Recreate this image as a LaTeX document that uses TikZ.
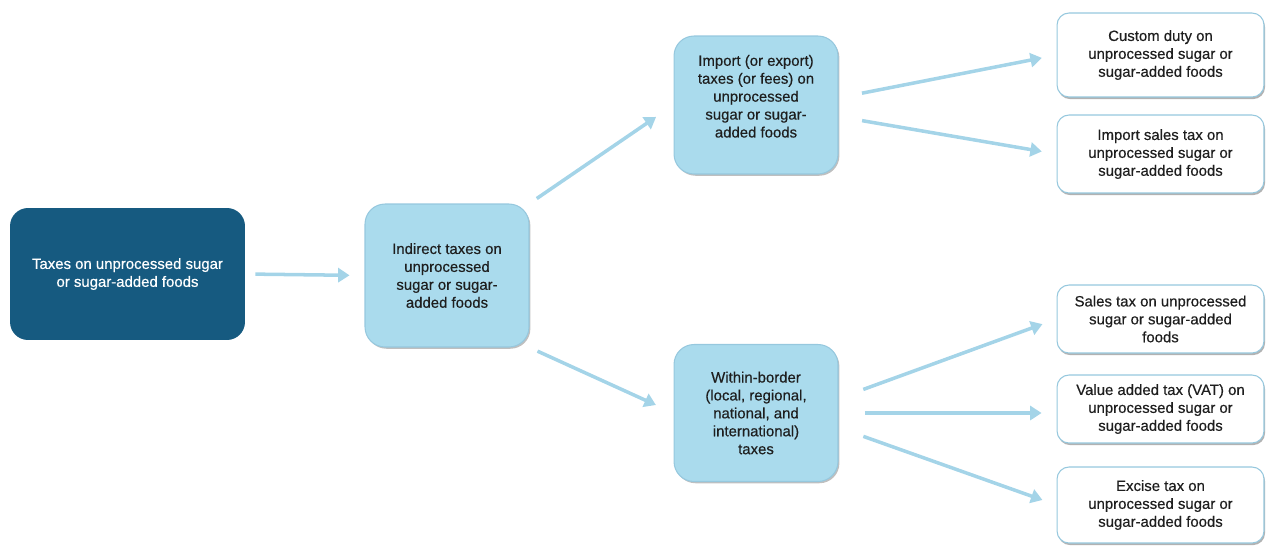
\documentclass[tikz,border=0pt]{standalone}
\usepackage{fontspec}
\setmainfont{Liberation Sans}[FakeBold=0.4]
\usetikzlibrary{arrows.meta,shadows}
\definecolor{darkblue}{RGB}{22,90,128}
\definecolor{lightblue}{RGB}{170,219,237}
\definecolor{arrowblue}{RGB}{164,212,232}
\definecolor{edgeblue}{RGB}{150,200,222}
\definecolor{textgray}{RGB}{30,30,30}
\begin{document}
\begin{tikzpicture}[x=0.02cm, y=-0.02cm,
    every node/.style={font=\fontsize{8.5}{10.2}\selectfont, align=center, inner sep=2pt},
    mainbox/.style={fill=darkblue, text=white, rounded corners=0.36cm, minimum width=4.7cm, minimum height=2.64cm},
    midbox/.style={fill=lightblue, draw=edgeblue, line width=0.6pt, text=textgray, rounded corners=0.4cm, minimum width=3.28cm,
        drop shadow={shadow xshift=0.8pt, shadow yshift=-1pt, fill=black!50, opacity=0.5}},
    leafbox/.style={fill=white, draw=edgeblue, line width=0.6pt, text=textgray, rounded corners=0.24cm, minimum width=4.14cm,
        drop shadow={shadow xshift=0.6pt, shadow yshift=-1.2pt, fill=black!55, opacity=0.55}},
    link/.style={-{Triangle[length=6.5pt,width=8pt]}, arrowblue, line width=2pt}]
    \useasboundingbox (0,0) rectangle (1266,545);

    \node[mainbox] (tax) at (127.5,274) {Taxes on unprocessed sugar\\or sugar-added foods};
    \node[midbox, minimum height=2.86cm] (indirect) at (447,275.5) {Indirect taxes on\\unprocessed\\sugar or sugar-\\added foods};
    \node[midbox, minimum height=2.76cm, text depth=10pt] (import) at (756,105) {Import (or export)\\taxes (or fees) on\\unprocessed\\sugar or sugar-\\added foods};
    \node[midbox, minimum height=2.74cm] (within) at (756,413) {Within-border\\(local, regional,\\national, and\\international)\\taxes};

    \node[leafbox, minimum height=1.68cm] (custom) at (1160.5,55) {Custom duty on\\unprocessed sugar or\\sugar-added foods};
    \node[leafbox, minimum height=1.56cm] (importsales) at (1160.5,154) {Import sales tax on\\unprocessed sugar or\\sugar-added foods};
    \node[leafbox, minimum height=1.36cm] (sales) at (1160.5,319) {Sales tax on unprocessed\\sugar or sugar-added\\foods};
    \node[leafbox, minimum height=1.36cm] (vat) at (1160.5,409) {Value added tax (VAT) on\\unprocessed sugar or\\sugar-added foods};
    \node[leafbox, minimum height=1.52cm] (excise) at (1160.5,505) {Excise tax on\\unprocessed sugar or\\sugar-added foods};

    \draw[link, shorten <=5.7pt, shorten >=8.5pt] (tax.east) -- (indirect.west);
    \draw[link, shorten <=5pt, shorten >=12pt] (indirect.north east) -- (import.west);
    \draw[link, shorten <=5pt, shorten >=11pt] (indirect.south east) -- (within.west);

    \draw[link, shorten <=13.6pt, shorten >=8.5pt] (import.5) -- (custom.west);
    \draw[link, shorten <=13.6pt, shorten >=8.5pt] (import.-8) -- (importsales.west);

    \draw[link, shorten <=15pt, shorten >=8.5pt] (within.10) -- (sales.west);
    \draw[link, shorten <=15pt, shorten >=8.5pt] (within.east) -- (within.east -| vat.west);
    \draw[link, shorten <=15pt, shorten >=8.5pt] (within.-10) -- (excise.west);
\end{tikzpicture}
\end{document}
